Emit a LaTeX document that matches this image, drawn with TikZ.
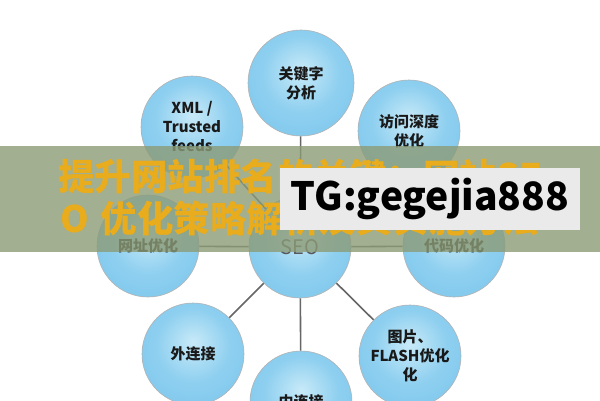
\documentclass[tikz,border=0pt]{standalone}
\usepackage{fontspec}
\setmainfont{Noto Sans CJK SC}
\usetikzlibrary{positioning}
\usepackage{xcolor}

\definecolor{ballin}{RGB}{200,234,248}
\definecolor{ballmid}{RGB}{118,196,236}
\definecolor{ballrim}{RGB}{40,136,202}
\definecolor{bannergreen}{RGB}{140,155,118}
\definecolor{headyellow}{RGB}{232,172,28}
\definecolor{tggray}{RGB}{234,234,234}
\pgfdeclareradialshading{bubble}{\pgfpoint{0bp}{6bp}}{color(0bp)=(ballin); color(18bp)=(ballmid!70!ballin); color(40bp)=(ballmid); color(56bp)=(ballrim)}

\tikzset{
  ball/.style={circle, draw=gray!60, line width=0.6pt, shading=bubble, minimum size=102pt,
    inner sep=0pt, align=center, text=black!90, font=\fontsize{15}{19}\selectfont\bfseries},
  link/.style={draw=black!60, line width=1.6pt},
  headline/.style={text=headyellow, inner sep=0pt, font=\fontsize{36.5}{40}\selectfont\bfseries},
  tgbox/.style={fill=tggray, minimum width=300pt, minimum height=62pt, inner sep=0pt,
    text=black, font=\fontsize{39}{42}\selectfont\bfseries},
}

\begin{document}
\begin{tikzpicture}[x=1pt, y=-1pt]
  \useasboundingbox (0,0) rectangle (600,400);
  \fill[white] (0,0) rectangle (600,400);

  % centre and the eight topics round it
  \node[ball] (seo) at (300,247) {\fontsize{20}{22}\selectfont\mdseries\color{black!65}SEO};
  \node[ball, minimum size=106pt] (keyword) at (301,83) {关键字\\分析};
  \node[ball] (xml) at (192,127) {XML /\\Trusted\\feeds};
  \node[ball] (depth) at (409,131) {访问深度\\优化};
  \node[ball] (url) at (148,246) {网址优化};
  \node[ball] (code) at (454,246) {代码优化};
  \node[ball] (outlink) at (193,354) {外连接};
  \node[ball] (image) at (410,356) {图片、\\FLASH优化\\化};
  \node[ball] (inlink) at (301,402) {内连接};

  % spokes from the centre
  \foreach \n in {keyword, xml, depth, url, code, outlink, image, inlink}
    \draw[link] (seo) -- (\n);

  % banner laid over the diagram
  \fill[bannergreen, opacity=0.8] (0,146) rectangle (600,252);
  \node[headline, anchor=base west] (line1) at (58,190) {提升网站排名的关键：网站SE};
  \node[headline, anchor=base west] (line2) at (60,232) {O\hspace{12pt}优化策略解析及其实施方法};
  \node[tgbox] (tg) at (430,199) {TG:gegejia888};
\end{tikzpicture}
\end{document}
